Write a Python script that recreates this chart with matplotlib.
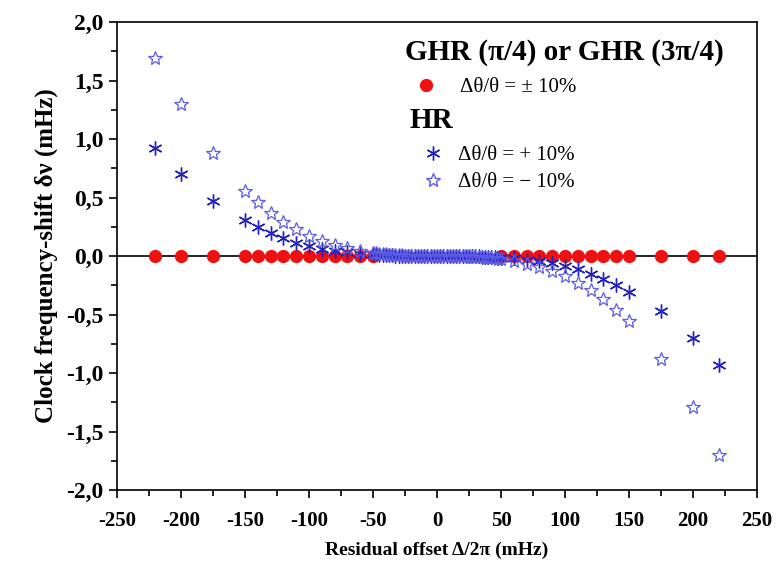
import numpy as np
import matplotlib
matplotlib.use("Agg")
import matplotlib.pyplot as plt
from matplotlib.lines import Line2D
from matplotlib.ticker import MultipleLocator, FuncFormatter

plt.rcParams['font.family'] = ['Liberation Serif', 'DejaVu Serif']
plt.rcParams['axes.unicode_minus'] = False

# GHR (pi/4) or GHR (3pi/4), dtheta/theta = +-10 %
x_ghr = [-220, -200, -175, -150, -140, -130, -120, -110, -100, -90, -80, -70, -60, -50,
         50, 60, 70, 80, 90, 100, 110, 120, 130, 140, 150, 175, 200, 220]
y_ghr = [0.0, 0.0, 0.0, 0.0, 0.0, 0.0, 0.0, 0.0, 0.0, 0.0, 0.0, 0.0, 0.0, 0.0,
         0.0, 0.0, 0.0, 0.0, 0.0, 0.0, 0.0, 0.0, 0.0, 0.0, 0.0, 0.0, 0.0, 0.0]

# HR, offsets (outer points + dense centre every 2.5 mHz)
x_hr = ([-220, -200, -175, -150, -140, -130, -120, -110, -100, -90, -80, -70, -60]
        + list(np.arange(-50, 50.1, 2.5))
        + [60, 70, 80, 90, 100, 110, 120, 130, 140, 150, 175, 200, 220])

# HR, dtheta/theta = +10 %
y_hr_plus = [0.92, 0.70, 0.47, 0.308, 0.245, 0.199, 0.151, 0.114, 0.085, 0.063, 0.045, 0.032, 0.021,
             # centre -50 ... -2.5
             0.015, 0.013, 0.011, 0.009, 0.008, 0.006, 0.005, 0.004, 0.003, 0.0025,
             0.002, 0.0015, 0.001, 0.0008, 0.0005, 0.0003, 0.0002, 0.0001, 0.0, 0.0,
             # 0
             0.0,
             # 2.5 ... 50
             0.0, 0.0, -0.0001, -0.0002, -0.0003, -0.0005, -0.0008, -0.001, -0.0015, -0.002,
             -0.0025, -0.003, -0.004, -0.005, -0.006, -0.008, -0.009, -0.011, -0.013, -0.015,
             -0.021, -0.032, -0.045, -0.063, -0.085, -0.114, -0.151, -0.199, -0.245, -0.308, -0.47, -0.70, -0.93]

# HR, dtheta/theta = -10 %
y_hr_minus = [1.69, 1.30, 0.88, 0.558, 0.459, 0.37, 0.293, 0.228, 0.171, 0.131, 0.094, 0.066, 0.045,
              # centre -50 ... -2.5
              0.028, 0.024, 0.020, 0.017, 0.014, 0.012, 0.010, 0.008, 0.006, 0.005,
              0.004, 0.003, 0.002, 0.0015, 0.001, 0.0007, 0.0004, 0.0002, 0.0001, 0.0,
              # 0
              0.0,
              # 2.5 ... 50
              0.0, -0.0001, -0.0002, -0.0004, -0.0007, -0.001, -0.0015, -0.002, -0.003, -0.004,
              -0.005, -0.006, -0.008, -0.010, -0.012, -0.014, -0.017, -0.020, -0.024, -0.028,
              -0.045, -0.066, -0.094, -0.131, -0.171, -0.228, -0.293, -0.37, -0.459, -0.558, -0.88, -1.29, -1.70]

fig = plt.figure(figsize=(7.8, 5.74), dpi=100)
ax = fig.add_axes([117/780, 1 - 490/574, 640/780, 468/574])

ax.axhline(0, color='black', lw=1.2, zorder=1)

red_col = '#ee1111'
ast_col = '#2020c4'
star_col = '#5c5ce2'

ax.plot(x_ghr, y_ghr, 'o', color=red_col, ms=8.5, mec=red_col, ls='none', zorder=2)
ax.plot(x_hr, y_hr_plus, ls='none', marker=(6, 2, 0), color=ast_col, mec=ast_col, ms=10, mew=1.0, zorder=3)
ax.plot(x_hr, y_hr_minus, ls='none', marker='*', mfc='none', mec=star_col, ms=10, mew=0.9, zorder=4)

ax.set_xlim(-250, 250)
ax.set_ylim(-2.0, 2.0)
ax.xaxis.set_major_locator(MultipleLocator(50))
ax.xaxis.set_minor_locator(MultipleLocator(25))
ax.yaxis.set_major_locator(MultipleLocator(0.5))
ax.yaxis.set_minor_locator(MultipleLocator(0.25))
ax.yaxis.set_major_formatter(FuncFormatter(lambda v, p: ('%.1f' % v).replace('.', ',')))
ax.tick_params(which='both', direction='out', top=False, right=False, width=1.2)
ax.tick_params(which='major', length=6)
ax.tick_params(which='minor', length=4)
ax.tick_params(axis='x', which='major', labelsize=15, pad=9)
ax.tick_params(axis='y', which='major', labelsize=17)
for lab in ax.get_xticklabels() + ax.get_yticklabels():
    lab.set_fontweight('bold')
for sp in ax.spines.values():
    sp.set_linewidth(1.2)

ax.set_xlabel('Residual offset Δ/2π (mHz)', fontsize=14, fontweight='bold', labelpad=8)
ax.set_ylabel('Clock frequency-shift δν (mHz)', fontsize=18, fontweight='bold', labelpad=6)

# legend headings
fig.text(405/780, 1 - 52/574, 'GHR (π/4) or GHR (3π/4)', fontsize=21, fontweight='bold',
         ha='left', va='center')
fig.text(410/780, 1 - 120/574, 'HR', fontsize=21, fontweight='bold', ha='left', va='center')

h_red = [Line2D([], [], ls='none', marker='o', color=red_col, ms=8.5)]
leg1 = fig.legend(h_red, ['Δθ/θ = ± 10%'], loc='center left', bbox_to_anchor=(415.6/780, 1 - 87/574),
                  frameon=False, fontsize=15, handlelength=1.0, handletextpad=1.13,
                  borderpad=0, borderaxespad=0)

h_hr = [Line2D([], [], ls='none', marker=(6, 2, 0), color=ast_col, ms=10),
        Line2D([], [], ls='none', marker='*', mfc='none', mec=star_col, ms=10)]
leg2 = fig.legend(h_hr, ['Δθ/θ = + 10%', 'Δθ/θ = − 10%'], loc='center left',
                  bbox_to_anchor=(422.6/780, 1 - 169/574), frameon=False, fontsize=15,
                  handlelength=1.0, handletextpad=0.7, labelspacing=0.35,
                  borderpad=0, borderaxespad=0)

fig.savefig('out.png', dpi=100)
